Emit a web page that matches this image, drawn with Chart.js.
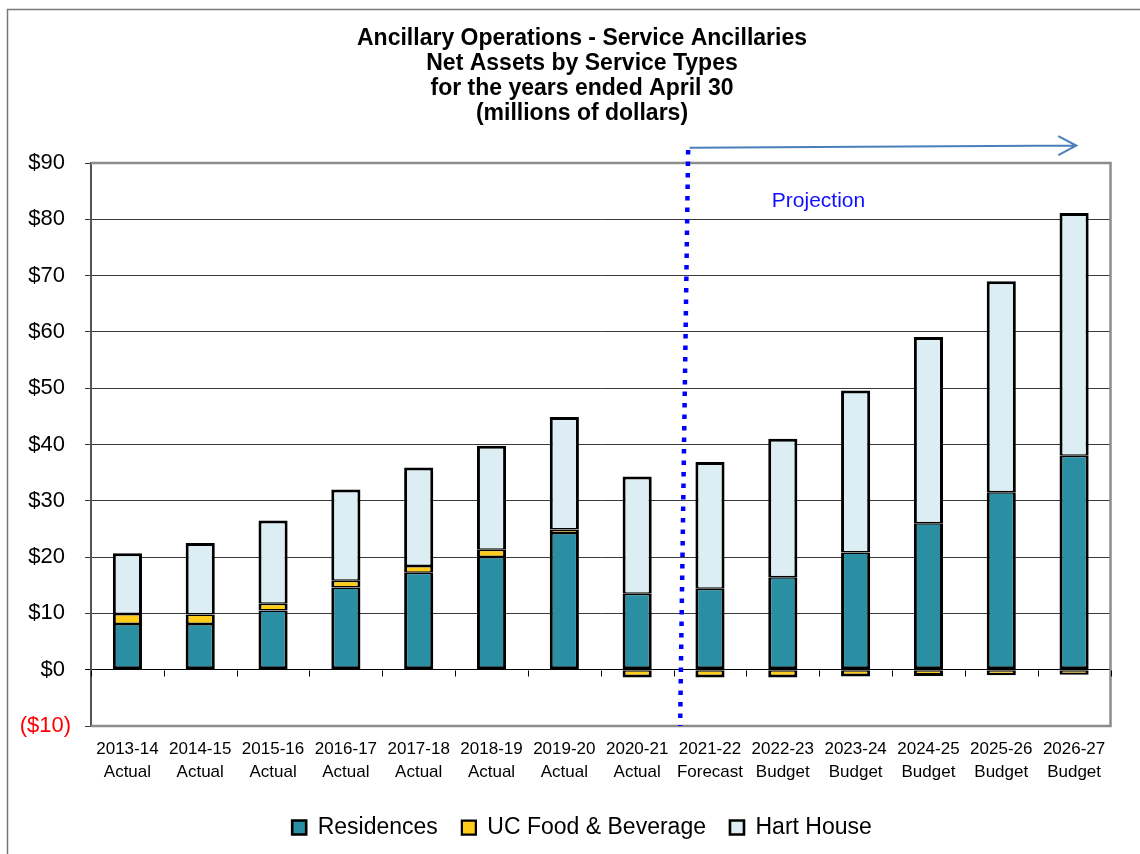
<!DOCTYPE html>
<html>
<head>
<meta charset="utf-8">
<title>Ancillary Operations - Service Ancillaries</title>
<script src="https://cdn.jsdelivr.net/npm/chart.js@4.4.0/dist/chart.umd.min.js"></script>
<style>
  html, body { margin: 0; padding: 0; background: #fff; }
  #wrap { position: relative; width: 1140px; height: 854px; }
</style>
</head>
<body>
<div id="wrap"><canvas id="netAssets" width="1140" height="854"></canvas></div>
<script>
/* ── data (millions of dollars) ── */
const years   = ['2013-14','2014-15','2015-16','2016-17','2017-18','2018-19','2019-20',
                 '2020-21','2021-22','2022-23','2023-24','2024-25','2025-26','2026-27'];
const periods = ['Actual','Actual','Actual','Actual','Actual','Actual','Actual',
                 'Actual','Forecast','Budget','Budget','Budget','Budget','Budget'];

const residences = [8.1, 8.1, 10.5, 14.6, 17.2, 20.0, 24.3, 13.5, 14.4, 16.4, 20.8, 26.0, 31.5, 38.0];
const ucFood     = [1.8, 1.7, 1.2, 1.2, 1.2, 1.3, 0.6, -1.4, -1.4, -1.4, -1.2, -1.1, -1.0, -0.9];
const hartHouse  = [10.8, 12.7, 14.8, 16.2, 17.5, 18.5, 20.0, 20.8, 22.5, 24.6, 28.8, 33.1, 37.5, 43.1];

const yMin = -10, yMax = 90, yStep = 10;

/* projection marker, in category / value units */
const projLine  = { xTop: 7.70, yTop: 92.3, xBottom: 7.59, yBottom: -10 };
const projArrow = { x1: 7.72, y1: 92.7, x2: 13.03, y2: 93.1 };
const projText  = { x: 9.49, y: 83.2, text: 'Projection' };

const FONT = "'Liberation Sans', Arial, sans-serif";

Chart.defaults.font.family = FONT;
Chart.defaults.color = '#000';

/* ── helpers ── */
const fmtDollar = v => v < 0 ? '($' + Math.abs(v) + ')' : '$' + v + ' ';

// joins between stacked segments stay thin, outer edges a little heavier
function segBorder(kind) {
  return ctx => {
    const v = ctx.raw;
    if (kind === 'res')  return { top: 1.5, bottom: 3, left: 3, right: 3 };
    if (kind === 'hart') return { top: 3, bottom: 1.5, left: 3, right: 3 };
    return v < 0 ? { top: 1.5, bottom: 3, left: 3, right: 3 }
                 : { top: 1.5, bottom: 1.5, left: 3, right: 3 };
  };
}

/* ── frame, zero-line ticks and projection marker ── */
const decorations = {
  id: 'decorations',
  afterLayout(chart) {
    // title and legend sit centred on the page, a little left of the plot
    for (const box of [chart.titleBlock, chart.legend]) {
      box.left = 24;
      box.right = chart.width;
    }
    chart.legend.top -= 4;
    chart.legend.bottom -= 4;
  },
  beforeDraw(chart) {
    const c = chart.ctx;
    c.save();
    c.strokeStyle = '#777';
    c.lineWidth = 1.5;
    c.beginPath();
    c.moveTo(7.5, chart.height);
    c.lineTo(7.5, 9.5);
    c.lineTo(chart.width, 9.5);
    c.stroke();
    c.restore();
  },
  beforeDatasetsDraw(chart) {
    const { ctx, chartArea: a, scales: { x, y } } = chart;
    ctx.save();
    ctx.strokeStyle = '#8c8c8c';
    ctx.lineWidth = 2.5;
    ctx.beginPath();
    ctx.moveTo(a.left, a.top);
    ctx.lineTo(a.right, a.top);
    ctx.lineTo(a.right, a.bottom);
    ctx.lineTo(a.left, a.bottom);
    ctx.stroke();

    const y0 = Math.round(y.getPixelForValue(0)) + 0.5;
    ctx.strokeStyle = '#000';
    ctx.lineWidth = 1;
    ctx.beginPath();
    for (let i = 0; i <= years.length; i++) {
      const px = Math.round(x.getPixelForValue(i - 0.5)) + 0.5;
      ctx.moveTo(px, y0);
      ctx.lineTo(px, y0 + 6);
    }
    ctx.stroke();
    ctx.restore();
  },
  afterDatasetsDraw(chart) {
    const { ctx, scales: { x, y } } = chart;
    ctx.save();

    // dotted divider between actuals and projections
    ctx.strokeStyle = '#0000FF';
    ctx.lineWidth = 4.5;
    ctx.setLineDash([4.5, 7]);
    ctx.beginPath();
    ctx.moveTo(x.getPixelForValue(projLine.xTop), y.getPixelForValue(projLine.yTop));
    ctx.lineTo(x.getPixelForValue(projLine.xBottom), y.getPixelForValue(projLine.yBottom));
    ctx.stroke();
    ctx.setLineDash([]);

    // arrow across the projection years
    const ax1 = x.getPixelForValue(projArrow.x1), ay1 = y.getPixelForValue(projArrow.y1);
    const ax2 = x.getPixelForValue(projArrow.x2), ay2 = y.getPixelForValue(projArrow.y2);
    ctx.strokeStyle = '#4A7EBB';
    ctx.lineWidth = 2;
    ctx.beginPath();
    ctx.moveTo(ax1, ay1);
    ctx.lineTo(ax2, ay2);
    ctx.moveTo(ax2 - 18, ay2 - 9.5);
    ctx.lineTo(ax2, ay2);
    ctx.lineTo(ax2 - 18, ay2 + 9.5);
    ctx.stroke();

    ctx.fillStyle = '#1010FF';
    ctx.font = '21px ' + FONT;
    ctx.textAlign = 'center';
    ctx.textBaseline = 'middle';
    ctx.fillText(projText.text, x.getPixelForValue(projText.x), y.getPixelForValue(projText.y));
    ctx.restore();
  }
};

const chart = new Chart(document.getElementById('netAssets'), {
  type: 'bar',
  data: {
    labels: years.map((yr, i) => [yr, periods[i]]),
    datasets: [
      {
        label: 'Residences',
        data: residences,
        backgroundColor: '#2A8FA3',
        borderColor: '#000',
        borderWidth: segBorder('res'),
        borderSkipped: false,
      },
      {
        label: 'UC Food & Beverage',
        data: ucFood,
        backgroundColor: '#FFCC1A',
        borderColor: '#000',
        borderWidth: segBorder('food'),
        borderSkipped: false,
      },
      {
        label: 'Hart House',
        data: hartHouse,
        backgroundColor: '#DCEEF4',
        borderColor: '#000',
        borderWidth: segBorder('hart'),
        borderSkipped: false,
      },
    ],
  },
  options: {
    responsive: false,
    animation: false,
    barPercentage: 0.4,
    categoryPercentage: 1,
    layout: { padding: { left: 10, right: 29.5, top: 0, bottom: 1 } },
    plugins: {
      title: {
        display: true,
        text: ['Ancillary Operations - Service Ancillaries',
               'Net Assets by Service Types',
               'for the years ended April 30',
               '(millions of dollars)'],
        font: { size: 23, weight: 'bold', lineHeight: 25 / 23 },
        color: '#000',
        padding: { top: 26, bottom: 37 },
      },
      legend: {
        position: 'bottom',
        labels: {
          font: { size: 23 },
          color: '#000',
          boxWidth: 14,
          boxHeight: 14,
          padding: 24,
        },
      },
      tooltip: { enabled: false },
    },
    scales: {
      x: {
        stacked: true,
        grid: { display: false, drawTicks: false },
        border: { display: false },
        ticks: {
          font: { size: 17, lineHeight: 23 / 17 },
          color: '#000',
          padding: 12,
          maxRotation: 0,
          autoSkip: false,
        },
      },
      y: {
        stacked: true,
        min: yMin,
        max: yMax,
        afterFit(scale) { scale.width = 81; },
        ticks: {
          stepSize: yStep,
          font: { size: 22 },
          padding: 14,
          color: ctx => ctx.tick.value < 0 ? '#FF0000' : '#000',
          callback: v => fmtDollar(v),
        },
        grid: {
          color: ctx => ctx.tick.value === 0 ? '#000' : '#3a3a3a',
          lineWidth: 1,
          tickLength: 6,
        },
        border: { color: '#555', width: 2 },
      },
    },
  },
  plugins: [decorations],
});
</script>
</body>
</html>
